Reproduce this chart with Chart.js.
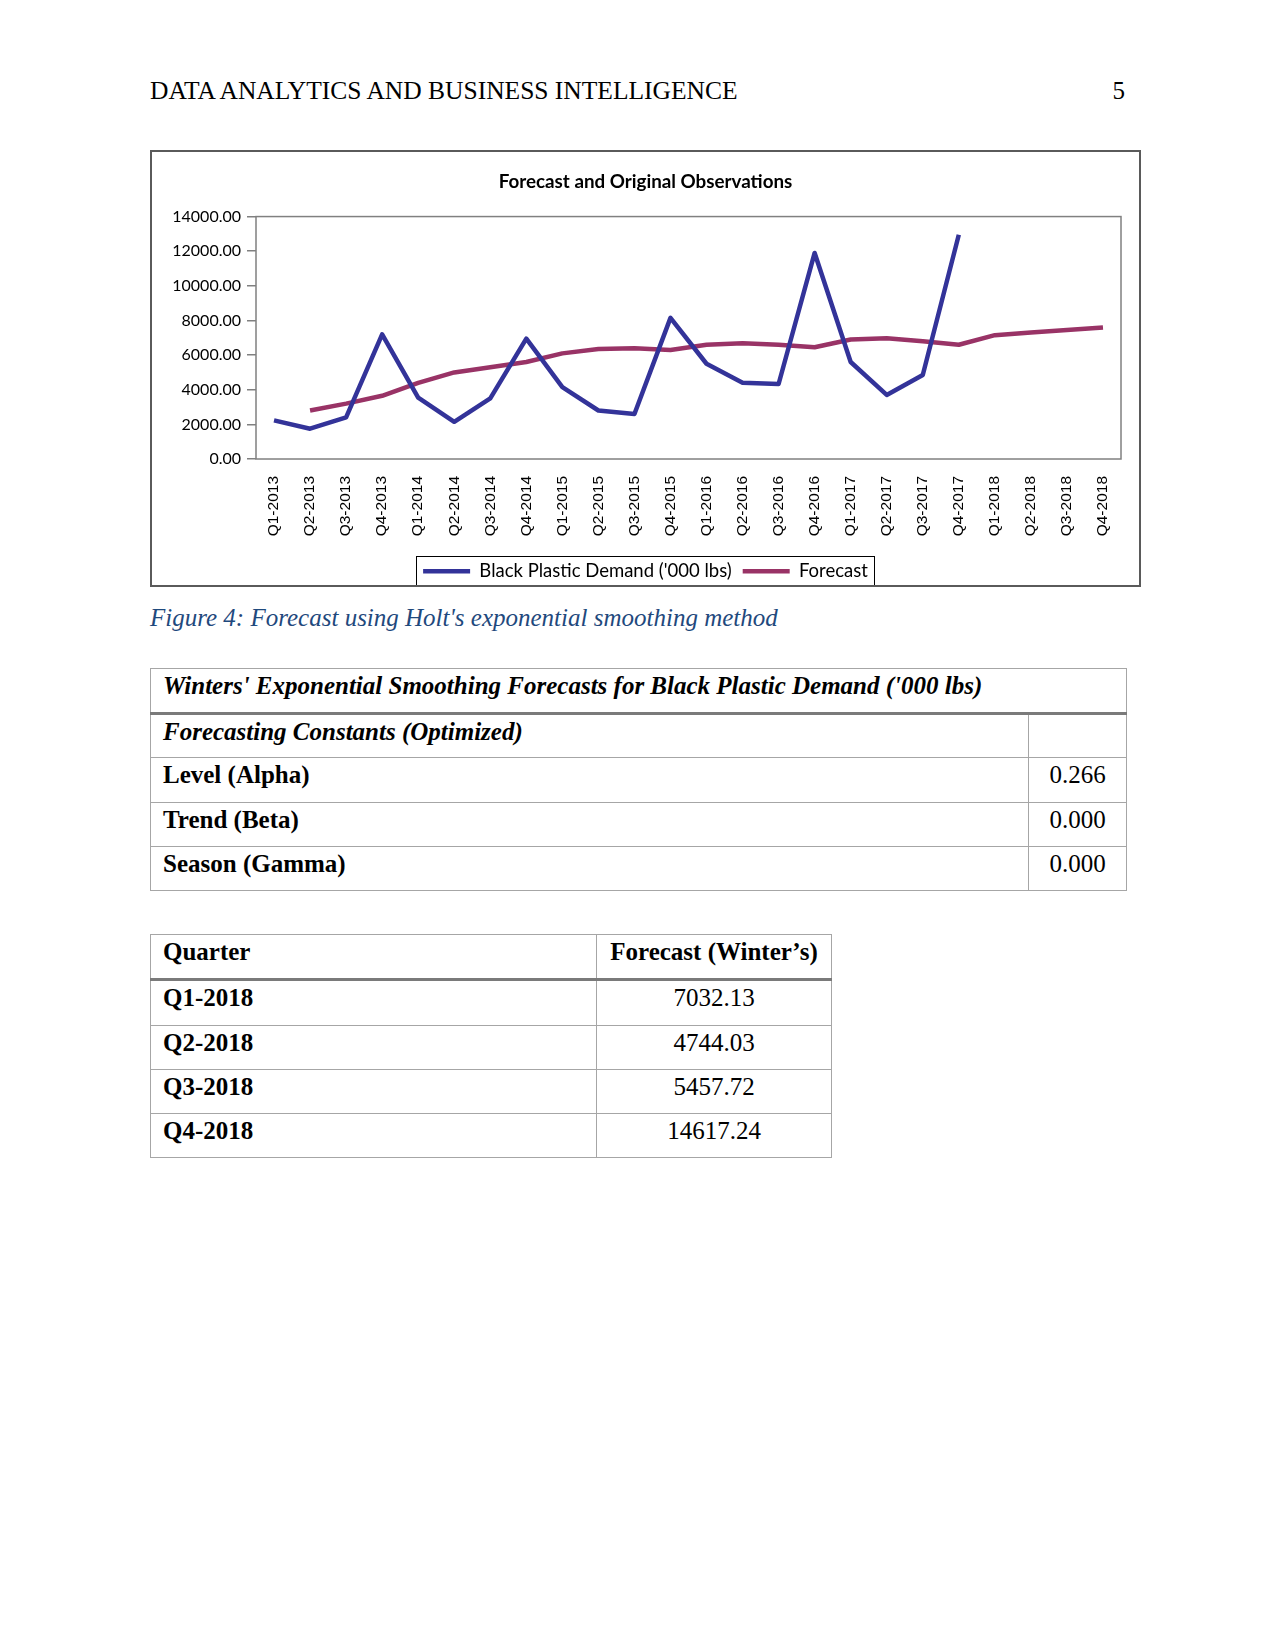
<!DOCTYPE html>
<html lang="en">
<head>
  <meta charset="UTF-8">
  <title>Forecast and Original Observations</title>
  <script src="https://cdn.jsdelivr.net/npm/chart.js@4"></script>
  <style>
    html, body { margin: 0; padding: 0; background: #fff; }
    body { width: 1275px; height: 1650px; position: relative; font-family: "Liberation Serif", "Times New Roman", serif; color: #000; }
    .abs { position: absolute; }
    #header { left: 150px; top: 78px; font-size: 25.5px; line-height: 25px; }
    #pageno { left: 1000px; width: 125px; text-align: right; top: 78px; font-size: 25px; line-height: 25px; }
    #chartBox { left: 150px; top: 150px; width: 991px; height: 437px; border: 2px solid #5a5a5a; box-sizing: border-box; }
    #chartBox canvas { display: block; }
    #caption { left: 150px; top: 605px; font-size: 25px; line-height: 25px; font-style: italic; color: #1f497d; }
    table { border-collapse: collapse; position: absolute; font-size: 25px; }
    td { border: 1px solid #a6a6a6; padding: 4px 12px 0 12px; vertical-align: top; line-height: 25px; box-sizing: border-box; }
    tr.head td { border-bottom: 3px solid #7a7a7a; }
    .bi { font-weight: bold; font-style: italic; }
    .b { font-weight: bold; }
    .c { text-align: center; padding-left: 0; padding-right: 0; }
  </style>
</head>
<body>
  <div id="header" class="abs">DATA ANALYTICS AND BUSINESS INTELLIGENCE</div>
  <div id="pageno" class="abs">5</div>

  <div id="chartBox" class="abs">
    <canvas id="chart" width="987" height="433"></canvas>
  </div>

  <div id="caption" class="abs">Figure 4: Forecast using Holt's exponential smoothing method</div>

  <table id="constants" style="left:150px; top:668px; width:977px;">
    <tr class="head" style="height:45px;"><td colspan="2" class="bi">Winters' Exponential Smoothing Forecasts for Black Plastic Demand ('000 lbs)</td></tr>
    <tr style="height:44px;"><td class="bi" style="width:878px;">Forecasting Constants (Optimized)</td><td></td></tr>
    <tr style="height:45px;"><td class="b">Level (Alpha)</td><td class="c">0.266</td></tr>
    <tr style="height:44px;"><td class="b">Trend (Beta)</td><td class="c">0.000</td></tr>
    <tr style="height:44px;"><td class="b">Season (Gamma)</td><td class="c">0.000</td></tr>
  </table>

  <table id="winters" style="left:150px; top:934px; width:682px;"></table>

  <script>
    // chart data
    var quarters = ["Q1-2013", "Q2-2013", "Q3-2013", "Q4-2013", "Q1-2014", "Q2-2014", "Q3-2014", "Q4-2014",
                    "Q1-2015", "Q2-2015", "Q3-2015", "Q4-2015", "Q1-2016", "Q2-2016", "Q3-2016", "Q4-2016",
                    "Q1-2017", "Q2-2017", "Q3-2017", "Q4-2017", "Q1-2018", "Q2-2018", "Q3-2018", "Q4-2018"];
    var demand = [2230, 1750, 2400, 7200, 3550, 2150, 3500, 6950, 4150, 2800, 2600, 8150,
                  5500, 4400, 4330, 11900, 5600, 3700, 4850, 12950, null, null, null, null];
    var forecast = [null, 2800, 3200, 3650, 4400, 5000, 5300, 5600, 6100, 6350, 6400, 6300,
                    6600, 6680, 6600, 6450, 6900, 6970, 6800, 6600, 7150, 7300, 7450, 7600];
    var yTicks = [0, 2000, 4000, 6000, 8000, 10000, 12000, 14000];

    // table data
    var tableQuarters = ["Q1-2018", "Q2-2018", "Q3-2018", "Q4-2018"];
    var tableWinters = ["7032.13", "4744.03", "5457.72", "14617.24"];

    /* Build the Winter's forecast table */
    function buildWintersTable() {
      var t = document.getElementById("winters");
      var html = '<tr class="head" style="height:45px;"><td class="b" style="width:446px;">Quarter</td><td class="b c">Forecast (Winter\u2019s)</td></tr>';
      for (var i = 0; i < tableQuarters.length; i++) {
        html += '<tr style="height:' + (i == 0 ? 46 : 44) + 'px;"><td class="b">' + tableQuarters[i] + '</td><td class="c">' + tableWinters[i] + '</td></tr>';
      }
      t.innerHTML = html;
    }
    buildWintersTable();

    /* Frame around the plot area and box around the legend */
    var framePlugin = {
      id: "frames",
      afterDraw: function(chart) {
        var ctx = chart.ctx;
        var a = chart.chartArea;
        ctx.save();
        ctx.strokeStyle = "#808080";
        ctx.lineWidth = 1.5;
        ctx.strokeRect(a.left, a.top, a.right - a.left, a.bottom - a.top);

        var boxes = chart.legend.legendHitBoxes;
        if (boxes && boxes.length) {
          var first = boxes[0], last = boxes[boxes.length - 1];
          var mid = first.top + first.height / 2;
          ctx.strokeStyle = "#000";
          ctx.lineWidth = 1;
          var l = Math.round(first.left - 7) + 0.5;
          var r = Math.round(last.left + last.width + 6) + 0.5;
          ctx.strokeRect(l, Math.round(mid - 15) + 0.5, r - l, 29);
        }
        ctx.restore();
      }
    };

    var chart = new Chart(document.getElementById("chart"), {
      type: "line",
      data: {
        labels: quarters,
        datasets: [{
          label: "Black Plastic Demand ('000 lbs)",
          data: demand,
          borderColor: "#333399",
          backgroundColor: "#333399",
          borderWidth: 4.5,
          pointRadius: 0,
          borderJoinStyle: "round",
          tension: 0
        }, {
          label: "Forecast",
          data: forecast,
          borderColor: "#993366",
          backgroundColor: "#993366",
          borderWidth: 4.5,
          pointRadius: 0,
          borderJoinStyle: "round",
          tension: 0
        }]
      },
      options: {
        responsive: false,
        animation: false,
        layout: { padding: 0 },
        plugins: {
          tooltip: { enabled: false },
          title: {
            display: true,
            text: "Forecast and Original Observations",
            color: "#000",
            font: { family: "Lato", size: 18.8, weight: "bold" },
            padding: { top: 19, bottom: 23 }
          },
          legend: {
            position: "bottom",
            maxHeight: 34,
            labels: {
              color: "#000",
              font: { family: "Lato", size: 18.5 },
              usePointStyle: true,
              pointStyle: "line",
              pointStyleWidth: 47,
              boxHeight: 4,
              padding: 11
            }
          }
        },
        scales: {
          x: {
            offset: true,
            grid: { display: false },
            border: { display: false },
            ticks: {
              color: "#000",
              font: { family: "Liberation Sans", size: 15.5 },
              minRotation: 90,
              maxRotation: 90,
              autoSkip: false,
              padding: 9
            },
            afterFit: function(scale) { scale.height = 92; }
          },
          y: {
            min: 0,
            max: 14000,
            afterBuildTicks: function(scale) {
              scale.ticks = yTicks.map(function(v) { return { value: v }; });
            },
            grid: { drawOnChartArea: false, drawTicks: true, tickLength: 9, color: "#808080", lineWidth: 1.5 },
            border: { display: false },
            ticks: {
              color: "#000",
              font: { family: "Lato", size: 16 },
              padding: 6,
              callback: function(v) { return Number(v).toFixed(2); }
            },
            afterFit: function(scale) { scale.width = 104; }
          },
          // empty right-hand spacer so the plot stops short of the frame
          spacer: {
            type: "linear",
            position: "right",
            grid: { display: false },
            border: { display: false },
            ticks: { display: false },
            afterFit: function(scale) { scale.width = 18; }
          }
        }
      },
      plugins: [framePlugin]
    });
  </script>
</body>
</html>
